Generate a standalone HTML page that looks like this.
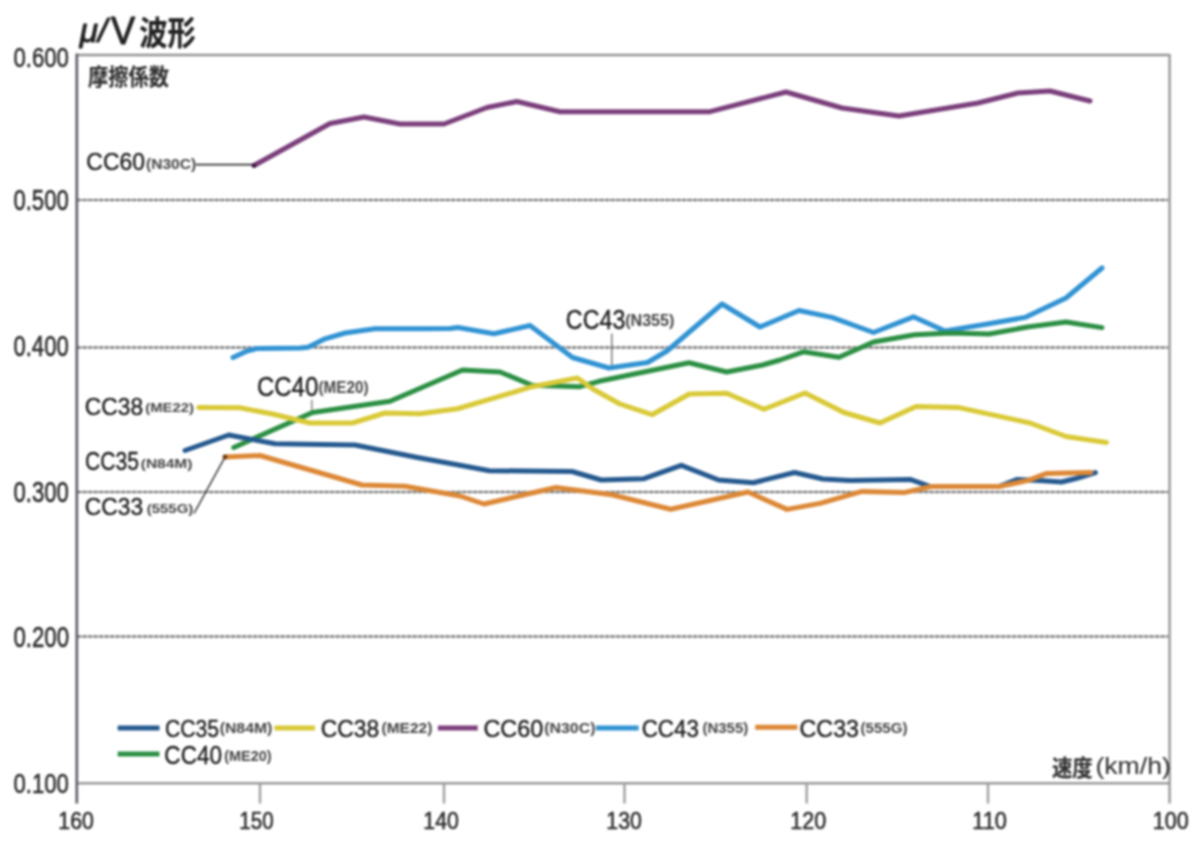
<!DOCTYPE html>
<html lang="ja"><head><meta charset="utf-8"><title>μ/V波形</title>
<style>html,body{margin:0;padding:0;background:#fff;width:1200px;height:848px;overflow:hidden}svg{display:block}</style></head><body>
<svg width="1200" height="848" viewBox="0 0 1200 848">
<defs><filter id="b" filterUnits="userSpaceOnUse" x="0" y="0" width="1200" height="848" color-interpolation-filters="sRGB"><feGaussianBlur stdDeviation="1.0"/></filter></defs>
<g filter="url(#b)">
<rect width="1200" height="848" fill="#fff"/>
<line x1="78" y1="200" x2="1168" y2="200" stroke="#9c9c9c" stroke-width="2.2"/>
<line x1="78" y1="200" x2="1168" y2="200" stroke="#747474" stroke-width="2.3" stroke-dasharray="2.2 3.3"/>
<line x1="78" y1="347.5" x2="1168" y2="347.5" stroke="#9c9c9c" stroke-width="2.2"/>
<line x1="78" y1="347.5" x2="1168" y2="347.5" stroke="#747474" stroke-width="2.3" stroke-dasharray="2.2 3.3"/>
<line x1="78" y1="492" x2="1168" y2="492" stroke="#9c9c9c" stroke-width="2.2"/>
<line x1="78" y1="492" x2="1168" y2="492" stroke="#747474" stroke-width="2.3" stroke-dasharray="2.2 3.3"/>
<line x1="78" y1="636.5" x2="1168" y2="636.5" stroke="#9c9c9c" stroke-width="2.2"/>
<line x1="78" y1="636.5" x2="1168" y2="636.5" stroke="#747474" stroke-width="2.3" stroke-dasharray="2.2 3.3"/>
<line x1="76.8" y1="55" x2="1169.6" y2="55" stroke="#939393" stroke-width="2.6"/>
<line x1="1169.6" y1="54" x2="1169.6" y2="803.5" stroke="#9e9e9e" stroke-width="2.6"/>
<line x1="76.8" y1="783.3" x2="1169.6" y2="783.3" stroke="#9a9a9a" stroke-width="2.4"/>
<line x1="76.8" y1="53.6" x2="76.8" y2="803.5" stroke="#5e6266" stroke-width="2.7"/>
<line x1="260" y1="783" x2="260" y2="803.5" stroke="#a0a0a0" stroke-width="2.4"/>
<line x1="444" y1="783" x2="444" y2="803.5" stroke="#a0a0a0" stroke-width="2.4"/>
<line x1="624.5" y1="783" x2="624.5" y2="803.5" stroke="#a0a0a0" stroke-width="2.4"/>
<line x1="806.7" y1="783" x2="806.7" y2="803.5" stroke="#a0a0a0" stroke-width="2.4"/>
<line x1="988" y1="783" x2="988" y2="803.5" stroke="#a0a0a0" stroke-width="2.4"/>
<line x1="196" y1="164.6" x2="254" y2="164.6" stroke="#333" stroke-width="1.7"/>
<line x1="611.8" y1="333.6" x2="611.8" y2="366" stroke="#666" stroke-width="1.3"/>
<line x1="311.8" y1="399.7" x2="311.8" y2="412" stroke="#777" stroke-width="1.3"/>
<line x1="194" y1="513.5" x2="224.8" y2="457.3" stroke="#3a3a3a" stroke-width="1.5"/>
<polyline points="254,165.5 330,123.5 364,117 400,124 444,124 487,107.5 517,101.5 560,111.7 710,111.7 786,92 842,108 899,116 978,103 1018,93 1050,91 1090,101" fill="none" stroke="#7b3f7c" stroke-width="5.0" stroke-linejoin="round" stroke-linecap="round"/>
<polyline points="233,357.5 247,351 258,348.4 300,347.9 308,347.3 325,338.8 345,333 375,328.7 420,328.7 450,328.5 458,327.5 494,333.8 530,325.5 572.5,357.5 609,368 647.5,362.5 667,351 722,304 760,327 799,310.5 832,317.4 873.5,332.5 913.4,316.8 945,331 986,324.3 1025,317.4 1066,298 1102,268" fill="none" stroke="#3193d3" stroke-width="5.0" stroke-linejoin="round" stroke-linecap="round"/>
<polyline points="233.75,447.5 312.5,412.5 390,401.25 462.5,370 500,372 532,385.3 580,386.7 599,381.3 689,362.7 726.7,372 762.5,365 780,360 803.4,351.8 839,357.3 873.5,342 914.8,334.7 950.5,333 989,334 1027.5,327 1066,322 1102,327.6" fill="none" stroke="#2b8f43" stroke-width="5.0" stroke-linejoin="round" stroke-linecap="round"/>
<polyline points="198.75,407.5 240,407.8 272.5,414 310,423 352.5,423 385,413 420,413.75 457.5,408.75 492,398.7 532,386.7 577.3,378 593.3,389.3 620,404 652,414.7 689.3,394 726.7,393.3 764,409.3 805,393 844,412.5 880,423 916,406.5 958,407.4 1030,423 1066,436.5 1106.5,442.5" fill="none" stroke="#d9c937" stroke-width="5.0" stroke-linejoin="round" stroke-linecap="round"/>
<polyline points="185,450.5 228.75,435 275,443.75 355,445 417.5,457.5 460,465.3 489.3,470.7 572,471.5 601.3,480 644,478.7 681.3,465.3 718.7,480 753.3,482.7 794.5,472.5 823,479 850,480.6 910,479.4 930.3,486.5 999,486.5 1017.4,479.4 1043,480.7 1061.5,482 1076,478.5 1095.4,472.6" fill="none" stroke="#25598f" stroke-width="5.0" stroke-linejoin="round" stroke-linecap="round"/>
<polyline points="225,457 260,455.5 362,485 405,486.25 460,496 484,504 556,487.5 612,494.7 670.7,509.3 748,492 787,509.4 820,503.4 862,491.4 904,492.6 931.2,486.5 999,486.5 1028.4,480.4 1046.8,473.4 1090.8,472.6" fill="none" stroke="#dc8836" stroke-width="5.0" stroke-linejoin="round" stroke-linecap="round"/>
<circle cx="225" cy="457" r="2.4" fill="#6a3a1a"/>
<circle cx="254" cy="165.5" r="2.2" fill="#3a1a3a"/>
<line x1="117.7" y1="727.9" x2="159.5" y2="727.9" stroke="#25598f" stroke-width="5.0"/>
<line x1="274.5" y1="727.9" x2="315" y2="727.9" stroke="#d9c937" stroke-width="5.0"/>
<line x1="437.9" y1="727.9" x2="477.75" y2="727.9" stroke="#7b3f7c" stroke-width="5.0"/>
<line x1="596" y1="727.9" x2="638.6" y2="727.9" stroke="#3193d3" stroke-width="5.0"/>
<line x1="755.2" y1="727.3" x2="797.4" y2="727.3" stroke="#dc8836" stroke-width="5.0"/>
<line x1="117.7" y1="754" x2="159.5" y2="754" stroke="#2b8f43" stroke-width="5.0"/>
<text transform="translate(79.67 42.12) scale(0.99 1)" style="font-family:&quot;Liberation Sans&quot;, sans-serif;font-weight:400;font-style:italic;font-size:33.59px" fill="#222" stroke="#222" stroke-width="1" stroke-linejoin="round">μ/</text>
<text transform="translate(111.04 44.4) scale(0.91 1)" style="font-family:&quot;Liberation Sans&quot;, sans-serif;font-weight:400;font-style:normal;font-size:39.71px" fill="#222" stroke="#222" stroke-width="1" stroke-linejoin="round">V</text>
<text transform="translate(139.15 44.67) scale(0.85 1)" style="font-family:&quot;Liberation Sans&quot;, &quot;Noto Sans CJK JP&quot;, sans-serif;font-weight:700;font-style:normal;font-size:33.26px" fill="#222" stroke="#222" stroke-width="0.16" stroke-linejoin="round">波形</text>
<text transform="translate(87.89 85.27) scale(0.91 1)" style="font-family:&quot;Liberation Sans&quot;, &quot;Noto Sans CJK JP&quot;, sans-serif;font-weight:700;font-style:normal;font-size:22.32px" fill="#333" stroke="#333" stroke-width="0.16" stroke-linejoin="round">摩擦係数</text>
<text transform="translate(13.41 66.52) scale(0.78 1)" style="font-family:&quot;Liberation Sans&quot;, sans-serif;font-weight:400;font-style:normal;font-size:28.45px" fill="#2c2c2c" stroke="#2c2c2c" stroke-width="0.55" stroke-linejoin="round">0.600</text>
<text transform="translate(13.41 209.91) scale(0.77 1)" style="font-family:&quot;Liberation Sans&quot;, sans-serif;font-weight:400;font-style:normal;font-size:28.73px" fill="#2c2c2c" stroke="#2c2c2c" stroke-width="0.55" stroke-linejoin="round">0.500</text>
<text transform="translate(13.41 355.71) scale(0.77 1)" style="font-family:&quot;Liberation Sans&quot;, sans-serif;font-weight:400;font-style:normal;font-size:28.73px" fill="#2c2c2c" stroke="#2c2c2c" stroke-width="0.55" stroke-linejoin="round">0.400</text>
<text transform="translate(13.41 501.71) scale(0.76 1)" style="font-family:&quot;Liberation Sans&quot;, sans-serif;font-weight:400;font-style:normal;font-size:29.15px" fill="#2c2c2c" stroke="#2c2c2c" stroke-width="0.55" stroke-linejoin="round">0.300</text>
<text transform="translate(13.41 646.71) scale(0.76 1)" style="font-family:&quot;Liberation Sans&quot;, sans-serif;font-weight:400;font-style:normal;font-size:29.3px" fill="#2c2c2c" stroke="#2c2c2c" stroke-width="0.55" stroke-linejoin="round">0.200</text>
<text transform="translate(13.41 792.72) scale(0.78 1)" style="font-family:&quot;Liberation Sans&quot;, sans-serif;font-weight:400;font-style:normal;font-size:28.45px" fill="#2c2c2c" stroke="#2c2c2c" stroke-width="0.55" stroke-linejoin="round">0.100</text>
<text transform="translate(58.3 828.76) scale(0.89 1)" style="font-family:&quot;Liberation Sans&quot;, sans-serif;font-weight:400;font-style:normal;font-size:23.94px" fill="#2c2c2c" stroke="#2c2c2c" stroke-width="0.55" stroke-linejoin="round">160</text>
<text transform="translate(239.35 828.76) scale(0.86 1)" style="font-family:&quot;Liberation Sans&quot;, sans-serif;font-weight:400;font-style:normal;font-size:23.94px" fill="#2c2c2c" stroke="#2c2c2c" stroke-width="0.55" stroke-linejoin="round">150</text>
<text transform="translate(423.3 828.76) scale(0.89 1)" style="font-family:&quot;Liberation Sans&quot;, sans-serif;font-weight:400;font-style:normal;font-size:23.94px" fill="#2c2c2c" stroke="#2c2c2c" stroke-width="0.55" stroke-linejoin="round">140</text>
<text transform="translate(606.3 828.76) scale(0.89 1)" style="font-family:&quot;Liberation Sans&quot;, sans-serif;font-weight:400;font-style:normal;font-size:23.94px" fill="#2c2c2c" stroke="#2c2c2c" stroke-width="0.55" stroke-linejoin="round">130</text>
<text transform="translate(790.27 828.76) scale(0.9 1)" style="font-family:&quot;Liberation Sans&quot;, sans-serif;font-weight:400;font-style:normal;font-size:23.94px" fill="#2c2c2c" stroke="#2c2c2c" stroke-width="0.55" stroke-linejoin="round">120</text>
<text transform="translate(972.26 828.76) scale(0.91 1)" style="font-family:&quot;Liberation Sans&quot;, sans-serif;font-weight:400;font-style:normal;font-size:23.94px" fill="#2c2c2c" stroke="#2c2c2c" stroke-width="0.55" stroke-linejoin="round">110</text>
<text transform="translate(1152.77 828.76) scale(0.9 1)" style="font-family:&quot;Liberation Sans&quot;, sans-serif;font-weight:400;font-style:normal;font-size:23.94px" fill="#2c2c2c" stroke="#2c2c2c" stroke-width="0.55" stroke-linejoin="round">100</text>
<text transform="translate(86.36 169.56) scale(0.94 1)" style="font-family:&quot;Liberation Sans&quot;, sans-serif;font-weight:400;font-style:normal;font-size:24.37px" fill="#1c1c1c" stroke="#1c1c1c" stroke-width="0.4" stroke-linejoin="round">CC60</text>
<text transform="translate(146.02 168.75) scale(1.11 1)" style="font-family:&quot;Liberation Sans&quot;, sans-serif;font-weight:700;font-style:normal;font-size:14.04px" fill="#4a4a4a" stroke="#4a4a4a" stroke-width="0.08" stroke-linejoin="round">(N30C)</text>
<text transform="translate(84.86 415.26) scale(0.94 1)" style="font-family:&quot;Liberation Sans&quot;, sans-serif;font-weight:400;font-style:normal;font-size:24.23px" fill="#1c1c1c" stroke="#1c1c1c" stroke-width="0.4" stroke-linejoin="round">CC38</text>
<text transform="translate(145.26 411.94) scale(1.09 1)" style="font-family:&quot;Liberation Sans&quot;, sans-serif;font-weight:700;font-style:normal;font-size:13.62px" fill="#4a4a4a" stroke="#4a4a4a" stroke-width="0.08" stroke-linejoin="round">(ME22)</text>
<text transform="translate(84.95 470.24) scale(0.81 1)" style="font-family:&quot;Liberation Sans&quot;, sans-serif;font-weight:400;font-style:normal;font-size:26.06px" fill="#1c1c1c" stroke="#1c1c1c" stroke-width="0.4" stroke-linejoin="round">CC35</text>
<text transform="translate(140.72 467.94) scale(1.14 1)" style="font-family:&quot;Liberation Sans&quot;, sans-serif;font-weight:700;font-style:normal;font-size:13.62px" fill="#4a4a4a" stroke="#4a4a4a" stroke-width="0.08" stroke-linejoin="round">(N84M)</text>
<text transform="translate(84.86 514.76) scale(0.94 1)" style="font-family:&quot;Liberation Sans&quot;, sans-serif;font-weight:400;font-style:normal;font-size:24.23px" fill="#1c1c1c" stroke="#1c1c1c" stroke-width="0.4" stroke-linejoin="round">CC33</text>
<text transform="translate(146.75 512.94) scale(1.1 1)" style="font-family:&quot;Liberation Sans&quot;, sans-serif;font-weight:700;font-style:normal;font-size:13.62px" fill="#4a4a4a" stroke="#4a4a4a" stroke-width="0.08" stroke-linejoin="round">(555G)</text>
<text transform="translate(256.89 396.13) scale(0.88 1)" style="font-family:&quot;Liberation Sans&quot;, sans-serif;font-weight:400;font-style:normal;font-size:27.32px" fill="#1c1c1c" stroke="#1c1c1c" stroke-width="0.4" stroke-linejoin="round">CC40</text>
<text transform="translate(318.53 393.03) scale(0.95 1)" style="font-family:&quot;Liberation Sans&quot;, sans-serif;font-weight:700;font-style:normal;font-size:16.06px" fill="#4a4a4a" stroke="#4a4a4a" stroke-width="0.08" stroke-linejoin="round">(ME20)</text>
<text transform="translate(565.84 329.03) scale(0.87 1)" style="font-family:&quot;Liberation Sans&quot;, sans-serif;font-weight:400;font-style:normal;font-size:26.76px" fill="#1c1c1c" stroke="#1c1c1c" stroke-width="0.4" stroke-linejoin="round">CC43</text>
<text transform="translate(625.19 326.02) scale(1.03 1)" style="font-family:&quot;Liberation Sans&quot;, sans-serif;font-weight:700;font-style:normal;font-size:15.64px" fill="#4a4a4a" stroke="#4a4a4a" stroke-width="0.08" stroke-linejoin="round">(N355)</text>
<text transform="translate(164.94 736.75) scale(0.86 1)" style="font-family:&quot;Liberation Sans&quot;, sans-serif;font-weight:400;font-style:normal;font-size:24.65px" fill="#1c1c1c" stroke="#1c1c1c" stroke-width="0.4" stroke-linejoin="round">CC35</text>
<text transform="translate(219.71 733.48) scale(1.1 1)" style="font-family:&quot;Liberation Sans&quot;, sans-serif;font-weight:700;font-style:normal;font-size:14.36px" fill="#4a4a4a" stroke="#4a4a4a" stroke-width="0.08" stroke-linejoin="round">(N84M)</text>
<text transform="translate(320.66 736.75) scale(0.93 1)" style="font-family:&quot;Liberation Sans&quot;, sans-serif;font-weight:400;font-style:normal;font-size:24.65px" fill="#1c1c1c" stroke="#1c1c1c" stroke-width="0.4" stroke-linejoin="round">CC38</text>
<text transform="translate(381.52 733.48) scale(1.08 1)" style="font-family:&quot;Liberation Sans&quot;, sans-serif;font-weight:700;font-style:normal;font-size:14.36px" fill="#4a4a4a" stroke="#4a4a4a" stroke-width="0.08" stroke-linejoin="round">(ME22)</text>
<text transform="translate(483.43 736.75) scale(0.95 1)" style="font-family:&quot;Liberation Sans&quot;, sans-serif;font-weight:400;font-style:normal;font-size:24.65px" fill="#1c1c1c" stroke="#1c1c1c" stroke-width="0.4" stroke-linejoin="round">CC60</text>
<text transform="translate(544.21 733.48) scale(1.11 1)" style="font-family:&quot;Liberation Sans&quot;, sans-serif;font-weight:700;font-style:normal;font-size:14.36px" fill="#4a4a4a" stroke="#4a4a4a" stroke-width="0.08" stroke-linejoin="round">(N30C)</text>
<text transform="translate(641.68 736.75) scale(0.91 1)" style="font-family:&quot;Liberation Sans&quot;, sans-serif;font-weight:400;font-style:normal;font-size:24.65px" fill="#1c1c1c" stroke="#1c1c1c" stroke-width="0.4" stroke-linejoin="round">CC43</text>
<text transform="translate(702.56 733.48) scale(1.04 1)" style="font-family:&quot;Liberation Sans&quot;, sans-serif;font-weight:700;font-style:normal;font-size:14.36px" fill="#4a4a4a" stroke="#4a4a4a" stroke-width="0.08" stroke-linejoin="round">(N355)</text>
<text transform="translate(799.54 736.76) scale(0.96 1)" style="font-family:&quot;Liberation Sans&quot;, sans-serif;font-weight:400;font-style:normal;font-size:24.23px" fill="#1c1c1c" stroke="#1c1c1c" stroke-width="0.4" stroke-linejoin="round">CC33</text>
<text transform="translate(860.54 733.48) scale(1.05 1)" style="font-family:&quot;Liberation Sans&quot;, sans-serif;font-weight:700;font-style:normal;font-size:14.36px" fill="#4a4a4a" stroke="#4a4a4a" stroke-width="0.08" stroke-linejoin="round">(555G)</text>
<text transform="translate(164.37 763.75) scale(0.89 1)" style="font-family:&quot;Liberation Sans&quot;, sans-serif;font-weight:400;font-style:normal;font-size:25.35px" fill="#1c1c1c" stroke="#1c1c1c" stroke-width="0.4" stroke-linejoin="round">CC40</text>
<text transform="translate(224.28 761.37) scale(0.97 1)" style="font-family:&quot;Liberation Sans&quot;, sans-serif;font-weight:700;font-style:normal;font-size:14.89px" fill="#4a4a4a" stroke="#4a4a4a" stroke-width="0.08" stroke-linejoin="round">(ME20)</text>
<text transform="translate(1051.89 776.33) scale(0.9 1)" style="font-family:&quot;Liberation Sans&quot;, &quot;Noto Sans CJK JP&quot;, sans-serif;font-weight:700;font-style:normal;font-size:22.74px" fill="#333" stroke="#333" stroke-width="0.16" stroke-linejoin="round">速度</text>
<text transform="translate(1095.39 773.77) scale(1.16 1)" style="font-family:&quot;Liberation Sans&quot;, sans-serif;font-weight:400;font-style:normal;font-size:22.98px" fill="#333" stroke="#333" stroke-width="0.08" stroke-linejoin="round">(km/h)</text>
</g>
</svg>
</body></html>
